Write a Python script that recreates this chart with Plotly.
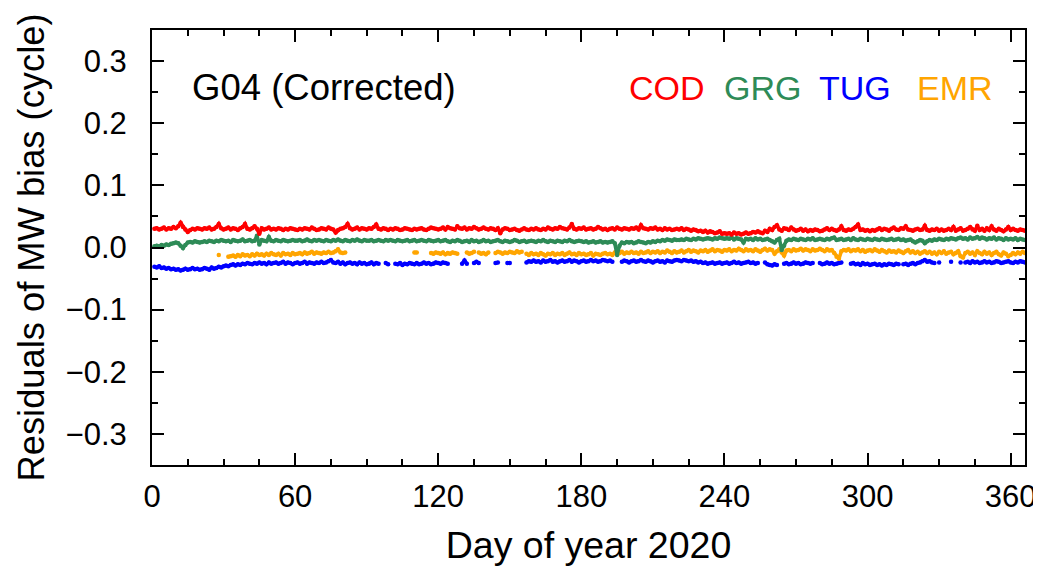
import numpy as np
import plotly.graph_objects as go

N = None
# Residuals of MW bias, in units of 0.001 cycle, for days 1..366 of 2020
COD_mc = [
    30,31,29,30,32,29,31,30,33,31,
    34,40,33,29,25,28,30,29,31,30,
    29,31,30,32,29,30,33,38,31,29,
    30,32,29,31,30,28,31,33,38,30,
    29,31,34,30,22,31,29,30,32,29,
    30,29,31,30,28,30,29,31,30,29,
    28,30,29,31,30,29,32,30,28,29,
    31,30,29,32,30,29,24,28,30,31,
    33,38,31,29,30,32,29,31,30,29,
    31,30,33,37,30,29,31,30,28,30,
    29,31,30,28,29,31,30,29,28,30,
    29,30,31,29,28,30,32,31,30,29,
    30,32,29,33,31,30,29,34,31,30,
    32,29,31,30,33,31,29,30,32,30,
    29,31,30,28,31,23,29,31,30,28,
    29,30,28,27,29,31,29,28,30,29,
    31,29,28,30,29,32,30,29,31,30,
    33,31,30,29,32,38,30,29,31,30,
    32,29,30,31,29,30,33,31,29,30,
    28,30,31,29,32,30,29,31,30,29,
    31,30,32,29,36,31,30,29,31,30,
    32,29,30,28,31,29,30,28,29,30,
    29,31,28,30,29,27,29,28,26,27,
    25,27,24,26,25,23,24,26,22,23,
    22,23,21,24,22,23,21,22,24,22,
    23,25,24,26,24,23,27,25,30,28,
    33,36,29,27,31,30,28,32,29,27,
    28,30,27,29,26,28,27,29,28,26,
    27,29,31,28,30,28,27,29,34,28,
    27,29,28,30,33,37,28,29,27,28,
    26,28,27,29,31,28,30,29,27,30,
    32,29,28,31,30,34,29,28,27,29,
    30,28,29,35,28,27,29,28,30,27,
    29,27,28,30,28,33,27,29,31,27,
    28,30,33,29,27,35,28,30,27,31,
    28,34,29,27,30,28,26,29,33,28,
    30,28,27,29,28,27,
]
GRG_mc = [
    2,3,2,4,3,5,4,6,7,8,
    7,3,-1,4,8,9,8,10,9,8,
    9,10,9,11,10,9,11,10,12,11,
    10,11,9,12,11,10,11,13,10,11,
    12,10,11,19,5,12,11,10,17,11,
    10,12,11,10,12,11,10,11,12,11,
    11,12,10,11,13,11,10,12,11,12,
    11,10,12,11,10,12,11,13,11,10,
    12,11,10,12,11,13,11,10,12,11,
    11,12,10,11,12,11,10,12,11,12,
    11,10,12,11,10,11,12,10,11,12,
    10,11,12,11,10,12,11,10,11,12,
    10,11,12,10,9,11,10,12,11,9,
    10,11,9,12,10,11,9,10,12,10,
    11,9,10,11,12,10,9,11,10,9,
    10,12,11,9,10,11,9,10,11,10,
    9,11,10,12,10,9,11,10,9,11,
    10,9,11,10,12,10,9,10,11,10,
    9,10,8,9,10,8,9,10,8,9,
    8,9,10,7,-12,3,8,7,9,8,
    9,7,8,10,9,8,7,9,8,10,
    9,11,10,12,11,13,12,11,13,12,
    12,13,12,14,13,12,14,13,15,14,
    13,14,15,14,13,15,14,16,15,14,
    15,14,16,13,15,14,13,8,14,13,
    14,12,15,13,14,12,13,14,12,10,
    8,12,14,-4,3,11,13,12,14,13,
    12,14,13,12,14,13,15,12,13,14,
    13,12,14,13,15,16,12,13,14,12,
    13,14,12,15,13,12,14,13,12,14,
    13,12,14,13,12,14,13,12,13,14,
    12,13,14,12,13,11,12,13,10,8,
    10,12,11,7,10,12,11,13,12,14,
    13,12,14,13,15,14,13,15,16,14,
    15,13,16,14,15,17,14,16,15,13,
    15,14,16,13,15,14,12,15,13,14,
    13,15,12,14,13,12,
]
TUG_mc = [
    -31,-32,-30,-33,-32,-34,-33,-35,-34,-36,
    -35,-37,-36,-34,-36,-35,-33,-35,-34,-36,
    -35,-33,-34,-36,-32,-34,-33,-31,-32,-30,
    -29,-30,-28,-27,-29,-27,-28,-26,-27,-25,
    -26,-27,-25,-26,-24,-26,-25,-27,-24,-26,
    -25,-24,-26,-25,-23,-26,-24,-25,-27,-25,
    -24,-26,-25,-23,-26,-24,-25,-26,-24,-25,
    -23,-25,-24,-22,-20,-24,-25,-23,-26,-24,
    -27,-25,-24,-26,-25,-27,-24,-26,-25,-27,
    -26,-24,-27,-25,-26,N,N,-25,-27,N,
    N,-26,-27,-25,-28,-26,-27,-25,-26,-27,
    -25,-27,-26,-24,-26,-25,-27,-26,-24,-25,
    -26,-24,-25,-26,N,N,N,N,N,-26,
    -21,-26,N,N,-25,-23,-25,N,N,N,
    N,N,N,-25,-24,N,N,N,-25,-25,
    N,N,N,N,N,N,-24,-22,-23,-21,
    -23,-22,-24,-21,-23,-22,-20,-23,-22,-24,
    -22,-21,-23,-22,-20,-23,-21,-22,-24,-22,
    -21,-23,-22,-20,-22,-21,-23,-22,-20,-21,
    -22,-21,-23,N,N,N,-23,-21,-22,-24,
    -22,-21,-23,-22,-20,-22,-23,-21,-22,-24,
    -22,-21,-23,-22,-24,-21,-22,-23,-21,-20,
    -21,-22,-20,-21,-22,-21,-23,-22,-24,-23,
    -25,-24,-26,-25,-24,-26,-25,-24,-26,-25,
    -24,-26,-25,-23,-25,-24,-26,-25,-24,-23,
    -25,-24,-26,-25,N,N,-24,-27,-28,-29,
    -27,-28,N,N,-26,-25,-27,-26,-24,-26,
    -25,-27,-26,-24,-25,-26,-25,N,N,-25,
    -27,-26,-24,-26,-25,-27,-26,-25,-24,N,
    N,N,-26,-25,-27,-26,-28,-25,-27,-26,
    -28,-27,-26,-28,-27,-29,-27,-28,-26,-27,
    -28,-26,-27,N,-27,-26,-28,-26,-25,-27,
    -25,-24,-22,-20,-23,-22,-24,-25,N,-24,
    N,N,N,N,-23,N,N,N,-24,N,
    -24,-23,-25,-22,-24,-23,-25,-24,-22,-24,
    -23,-25,-24,-22,-23,-25,-24,-23,-22,-24,
    -25,-23,-24,-22,-23,-24,
]
EMR_mc = [
    N,N,N,N,N,N,N,N,N,N,
    N,N,N,N,N,N,N,N,N,N,
    N,N,N,N,N,N,N,-12,N,N,
    N,-15,-14,-13,-15,-12,-14,-11,-13,-12,
    -14,-11,-13,-10,-12,-11,-13,-10,-12,-9,
    -11,-12,-10,-13,-9,-11,-10,-12,-9,-11,
    -10,-9,-11,-8,-10,-9,-7,-10,-8,-9,
    -10,-8,-9,-7,-9,-8,-6,-3,-8,-9,
    -8,N,N,N,N,N,N,N,N,N,
    N,N,N,N,N,N,N,N,N,N,
    N,N,N,N,N,N,N,N,N,-8,
    -8,N,N,N,N,N,-9,-10,-8,-9,
    -10,-8,-11,-9,-10,-8,-9,-10,N,N,
    N,-8,-10,-9,-7,N,-8,-10,-9,-11,
    -8,N,N,-9,-7,-8,-10,-8,-9,-7,
    -8,-9,-6,-8,-7,N,-10,-12,-9,-11,
    -10,-12,-9,-11,-13,-10,-11,-9,-12,-10,
    -11,-9,-12,-10,-8,-11,-10,-12,-9,-11,
    -10,-12,-11,-9,-13,-10,-11,-12,-10,-9,
    -11,-10,-12,-8,-4,-9,-7,-10,-8,-9,
    -7,-9,-8,-10,-7,-9,-8,-6,-9,-7,
    -8,-6,-9,-7,-8,-5,-7,-9,-6,-8,
    -7,-5,-8,-6,-4,-7,-5,-6,-8,-5,
    -6,-4,-7,-5,-3,-6,-4,-5,-7,-4,
    -5,-3,-6,-4,-5,-2,-4,-6,-3,-5,
    -4,-6,-3,-5,-7,-4,-2,-5,-3,-4,
    -10,-6,-3,-8,-13,-5,-4,-6,-3,-5,
    -4,-2,-5,-3,-4,-6,-3,-5,-4,-2,
    -4,-6,-3,-5,-4,-9,-15,-18,-6,-4,
    -5,-3,-6,-4,-5,-3,-6,-4,-7,-5,
    -4,-6,-3,-5,-7,-4,-6,-8,-5,-7,
    -6,-8,-5,-7,-9,-6,-4,-8,-6,-9,
    -7,-10,-8,-6,-9,-7,-10,-8,-11,-7,
    -9,-6,-10,-8,-7,-11,-9,-6,-14,-16,
    -9,-7,-10,-8,-12,-6,-9,-11,-7,-10,
    -8,-12,-9,-7,-11,-13,-8,-10,-14,-12,
    -9,-11,-8,-10,-7,-9,
]

SERIES = ["COD", "GRG", "TUG", "EMR"]
COLORS = {"COD": "#ff0000", "GRG": "#2e8b57", "TUG": "#0000ff", "EMR": "#ffa500"}
DATA = {"COD": COD_mc, "GRG": GRG_mc, "TUG": TUG_mc, "EMR": EMR_mc}

X_TICKS = [0, 60, 120, 180, 240, 300, 360]
Y_TICKS = [-0.3, -0.2, -0.1, 0.0, 0.1, 0.2, 0.3]

FONT = "Liberation Sans, Arial, sans-serif"

fig = go.Figure()
for name in ["TUG", "EMR", "GRG", "COD"]:
    vals = np.array([np.nan if v is None else v for v in DATA[name]], dtype=float) / 1000.0
    days = np.arange(1, len(vals) + 1)
    fig.add_trace(go.Scatter(
        x=days, y=vals, mode="lines+markers", name=name,
        line=dict(color=COLORS[name], width=3.6),
        marker=dict(color=COLORS[name], size=4.5),
        connectgaps=False, showlegend=False,
    ))

fig.add_annotation(text="G04 (Corrected)", x=0.0435, y=0.867, xref="paper", yref="paper",
                   xanchor="left", yanchor="middle", showarrow=False,
                   font=dict(family=FONT, size=36.5, color="black"))
label_x = [0.5442, 0.6530, 0.7618, 0.8740]
for name, lx in zip(SERIES, label_x):
    fig.add_annotation(text=name, x=lx, y=0.867, xref="paper", yref="paper",
                       xanchor="left", yanchor="middle", showarrow=False,
                       font=dict(family=FONT, size=34, color=COLORS[name]))

axis_common = dict(
    showline=True, linecolor="black", linewidth=2, mirror="ticks",
    ticks="inside", ticklen=12, tickwidth=2, tickcolor="black",
    showgrid=False, zeroline=False,
    tickfont=dict(family=FONT, size=31, color="black"),
)
fig.update_xaxes(
    range=[0, 366], tickvals=X_TICKS, ticktext=[str(v) for v in X_TICKS],
    minor=dict(dtick=15, tick0=0, ticks="inside", ticklen=6, tickwidth=1.5, tickcolor="black", showgrid=False),
    title=dict(text="Day of year 2020", font=dict(family=FONT, size=37.5, color="black"), standoff=23),
    ticklabelstandoff=3, ticklabeloverflow="allow",
    **axis_common,
)
fig.update_yaxes(
    range=[-0.35, 0.35], tickvals=Y_TICKS, ticktext=["\u22120.3", "\u22120.2", "\u22120.1", "0.0", "0.1", "0.2", "0.3"],
    minor=dict(dtick=0.05, tick0=0, ticks="inside", ticklen=6, tickwidth=1.5, tickcolor="black", showgrid=False),
    title=dict(text="Residuals of MW bias (cycle)", font=dict(family=FONT, size=36.3, color="black"), standoff=10),
    ticklabelstandoff=17,
    **axis_common,
)
# The page body has an 8 px default margin, so the figure is offset by 8 px.
fig.update_layout(
    width=1033, height=558,
    margin=dict(l=144, r=16, t=22, b=101, autoexpand=False),
    paper_bgcolor="white", plot_bgcolor="white",
)
fig.write_html("out.html")
